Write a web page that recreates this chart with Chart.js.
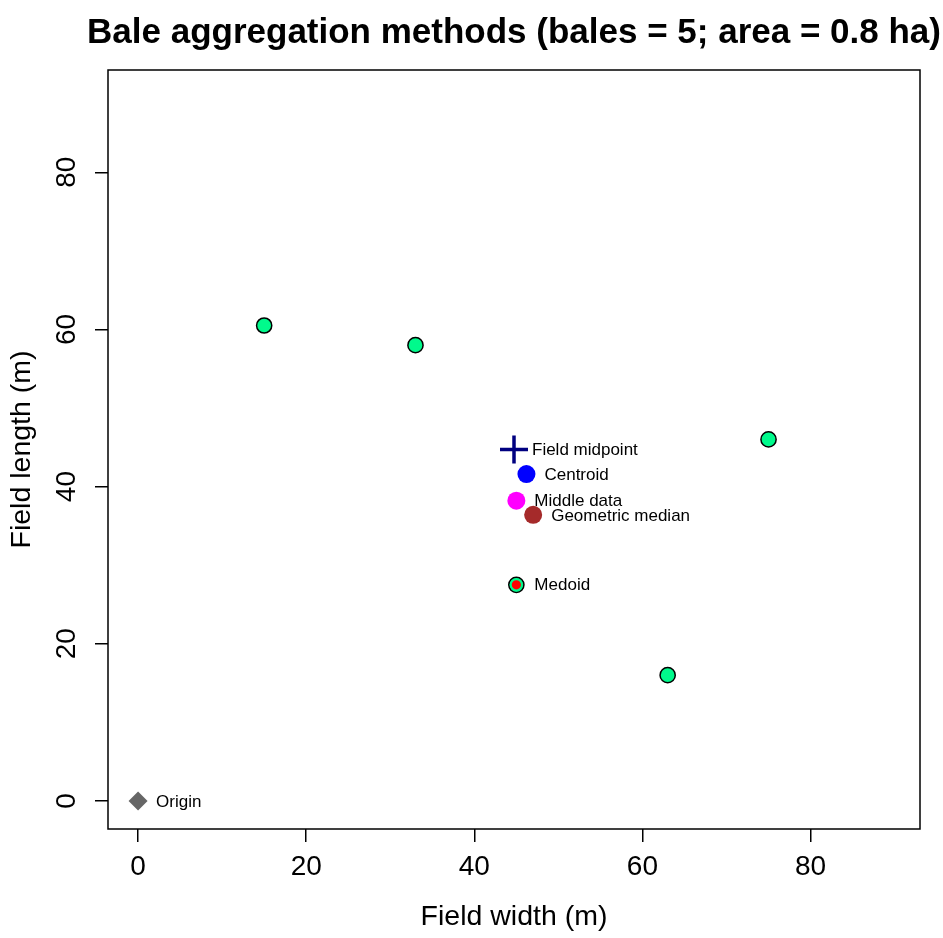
<!DOCTYPE html>
<html>
<head>
<meta charset="utf-8">
<title>Bale aggregation methods</title>
<script src="https://cdn.jsdelivr.net/npm/chart.js@4.4.1/dist/chart.umd.min.js"></script>
<style>
  html, body { margin: 0; padding: 0; background: #fff; }
</style>
</head>
<body>
<canvas id="baleChart" width="943" height="938"></canvas>
<script>
// bale positions inside the field (m)
const baleX = [15, 33, 75, 63, 45];
const baleY = [60.5, 58, 46, 16, 27.5];

// aggregation results, one point each
const methodNames = ['Origin', 'Field midpoint', 'Centroid', 'Middle data', 'Geometric median', 'Medoid'];
const methodX = [0, 44.72, 46.2, 45.0, 47.0, 45];
const methodY = [0, 44.72, 41.6, 38.2, 36.4, 27.5];

// square field of 0.8 ha, side = sqrt(8000)
const fieldSide = 89.44;
const axisTicks = [0, 20, 40, 60, 80];

const FONT = '"Liberation Sans", Arial, Helvetica, sans-serif';
Chart.defaults.font.family = FONT;
Chart.defaults.color = '#000';

// R-style axis range: data range padded by 4% each side
const axisMin = -0.04 * fieldSide;
const axisMax = 1.04 * fieldSide;

const methodStyle = {
  'Origin':           { pointStyle: 'rectRot', radius: 9.5, bg: '#666666', border: '#666666', bw: 0 },
  'Field midpoint':   { pointStyle: 'cross',   radius: 14,  bg: '#000080', border: '#000080', bw: 3.5 },
  'Centroid':         { pointStyle: 'circle',  radius: 9,   bg: '#0000FF', border: '#0000FF', bw: 0 },
  'Middle data':      { pointStyle: 'circle',  radius: 9,   bg: '#FF00FF', border: '#FF00FF', bw: 0 },
  'Geometric median': { pointStyle: 'circle',  radius: 9,   bg: '#A52A2A', border: '#A52A2A', bw: 0 },
  'Medoid':           { pointStyle: 'circle',  radius: 5.6, bg: '#FF0000', border: '#00FA8C', bw: 2 }
};

const datasets = [{
  label: 'Bales',
  data: baleX.map((x, i) => ({ x: x, y: baleY[i] })),
  pointStyle: 'circle',
  pointRadius: 7.6,
  pointBackgroundColor: '#00FA8C',
  pointBorderColor: '#000',
  pointBorderWidth: 1.5,
  order: 20
}];

methodNames.forEach((name, i) => {
  const s = methodStyle[name];
  datasets.push({
    label: name,
    isMethod: true,
    data: [{ x: methodX[i], y: methodY[i] }],
    pointStyle: s.pointStyle,
    pointRadius: s.radius,
    pointBackgroundColor: s.bg,
    pointBorderColor: s.border,
    pointBorderWidth: s.bw,
    order: 10 - i
  });
});

// closed frame round the plotting region
const frame = {
  id: 'frame',
  afterDatasetsDraw(chart) {
    const { ctx, chartArea: a } = chart;
    ctx.save();
    ctx.strokeStyle = '#000';
    ctx.lineWidth = 1.5;
    ctx.strokeRect(a.left, a.top, a.right - a.left, a.bottom - a.top);
    ctx.restore();
  }
};

// text to the right of each method point
const pointLabels = {
  id: 'pointLabels',
  afterDatasetsDraw(chart) {
    const ctx = chart.ctx;
    ctx.save();
    ctx.font = '17px ' + FONT;
    ctx.fillStyle = '#000';
    ctx.textAlign = 'left';
    ctx.textBaseline = 'middle';
    chart.data.datasets.forEach((ds, i) => {
      if (!ds.isMethod) return;
      const el = chart.getDatasetMeta(i).data[0];
      ctx.fillText(ds.label, el.x + 18, el.y + 1);
    });
    ctx.restore();
  }
};

// main title, centred over the plotting region
const mainTitle = {
  id: 'mainTitle',
  afterDraw(chart) {
    const { ctx, chartArea: a } = chart;
    ctx.save();
    ctx.font = 'bold 35px ' + FONT;
    ctx.fillStyle = '#000';
    ctx.textAlign = 'center';
    ctx.textBaseline = 'alphabetic';
    ctx.fillText('Bale aggregation methods (bales = 5; area = 0.8 ha)', (a.left + a.right) / 2, 43);
    ctx.restore();
  }
};

const tickGrid = { drawOnChartArea: false, drawTicks: true, tickLength: 13, color: '#000', lineWidth: 1.5 };
const setTicks = scale => { scale.ticks = axisTicks.map(v => ({ value: v })); };

new Chart(document.getElementById('baleChart').getContext('2d'), {
  type: 'scatter',
  data: { datasets: datasets },
  options: {
    responsive: false,
    animation: false,
    devicePixelRatio: 1,
    layout: { padding: { top: 70, right: 23, left: 0, bottom: 0 } },
    plugins: {
      legend: { display: false },
      title: { display: false },
      tooltip: { enabled: false }
    },
    scales: {
      x: {
        type: 'linear',
        min: axisMin,
        max: axisMax,
        afterBuildTicks: setTicks,
        afterFit: s => { s.height = 109; },
        grid: tickGrid,
        border: { display: false },
        ticks: { font: { size: 28 }, padding: 8, maxRotation: 0 },
        title: {
          display: true,
          text: 'Field width (m)',
          font: { size: 28.5, lineHeight: 1.2 },
          padding: { top: 0, bottom: 4 }
        }
      },
      y: {
        type: 'linear',
        min: axisMin,
        max: axisMax,
        afterBuildTicks: setTicks,
        afterFit: s => { s.width = 108; },
        grid: tickGrid,
        border: { display: false },
        ticks: { font: { size: 28 }, padding: 12, minRotation: 90, maxRotation: 90, crossAlign: 'center' },
        title: {
          display: true,
          text: 'Field length (m)',
          font: { size: 28.5, lineHeight: 1 },
          padding: { top: 8, bottom: 0 }
        }
      }
    }
  },
  plugins: [frame, pointLabels, mainTitle]
});
</script>
</body>
</html>
